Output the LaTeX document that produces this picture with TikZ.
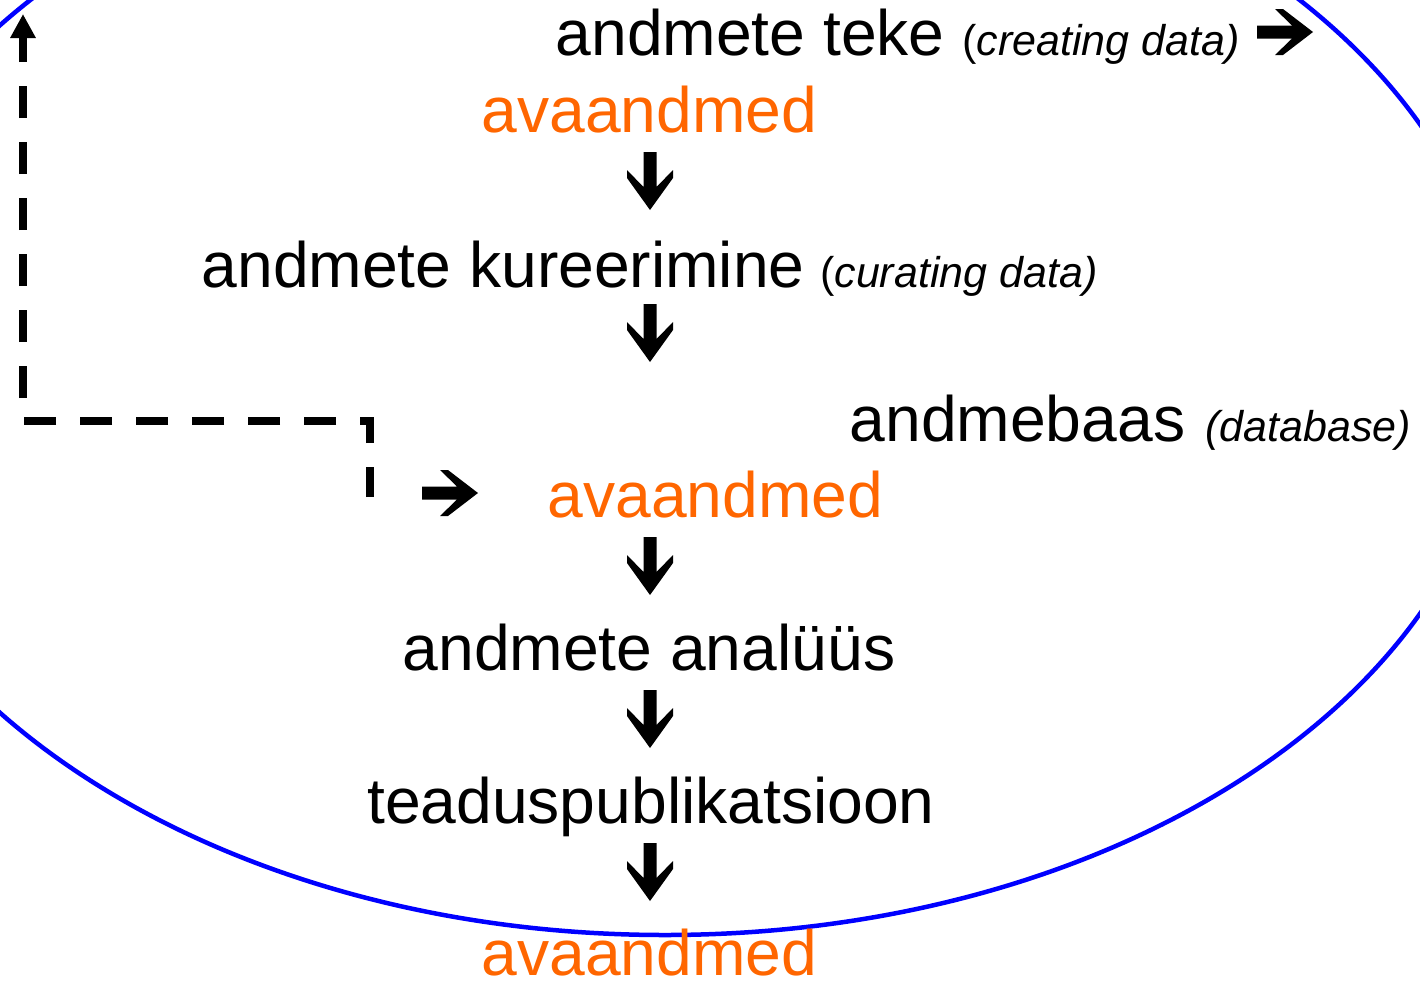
\documentclass[tikz,border=0pt]{standalone}
\usepackage{fontspec}
\setmainfont{Liberation Sans}
\usetikzlibrary{arrows.meta}
\definecolor{orangeT}{RGB}{255,102,0}
\definecolor{blueE}{RGB}{0,0,255}
\tikzset{
  bigtext/.style={font=\fontsize{64.2}{77}\selectfont, inner sep=0pt, anchor=base west},
  smalltext/.style={font=\fontsize{43}{52}\selectfont, inner sep=0pt, anchor=base west},
  orangetext/.style={bigtext, text=orangeT},
  cyclepath/.style={draw=blueE, line width=4.5pt},
  dashconn/.style={line width=7.5pt, dash pattern=on 32pt off 24pt, dash phase=2pt,
                   -{Triangle[length=24pt,width=24pt]}},
  downarr/.pic={\fill[black] (-6.5,0) -- (6.5,0) -- (6.5,35) -- (23,18) -- (23,26) -- (0,58)
                 -- (-23,26) -- (-23,18) -- (-6.5,35) -- cycle;},
  rightarr/.pic={\fill[black] (0,-6.5) -- (0,6.5) -- (35,6.5) -- (18,23) -- (26,23) -- (56,0)
                 -- (26,-23) -- (18,-23) -- (35,-6.5) -- cycle;}
}
\begin{document}
\begin{tikzpicture}[x=1pt,y=-1pt]
  \useasboundingbox (0,0) rectangle (1420,980);
  \clip (0,0) rectangle (1420,980);
  \draw[cyclepath] (665,369) ellipse [x radius=837pt, y radius=566pt];

  % texts
  \node[bigtext] (teke) at (555.5,55) {andmete teke};
  \node[smalltext] (tekeEn) at (962,55) {(\textit{creating data)}};
  \node[orangetext] (ava1) at (481.5,132) {avaandmed};
  \node[bigtext] (kure) at (201.5,287) {andmete kureerimine};
  \node[smalltext] (kureEn) at (820,287) {(\textit{curating data)}};
  \node[bigtext] (baas) at (849.5,441) {andmebaas};
  \node[smalltext] (baasEn) at (1205,441) {\textit{(database)}};
  \node[orangetext] (ava2) at (547.5,517) {avaandmed};
  \node[bigtext] (anal) at (402.5,670) {andmete analüüs};
  \node[bigtext] (publ) at (367,823) {teaduspublikatsioon};
  \node[orangetext] (ava3) at (481.5,975) {avaandmed};

  % block arrows
  \pic at (650,152) {downarr};
  \pic at (650,304) {downarr};
  \pic at (650,537) {downarr};
  \pic at (650,690) {downarr};
  \pic at (650,843) {downarr};
  \pic at (1257,32) {rightarr};
  \pic at (422,493) {rightarr};

  % dashed feedback connector
  \coordinate (dstart) at (370,497);
  \coordinate (dend) at (23,14);
  \draw[dashconn] (dstart) -- (dstart |- 0,421) -- (dend |- 0,421) -- (dend);
\end{tikzpicture}
\end{document}
